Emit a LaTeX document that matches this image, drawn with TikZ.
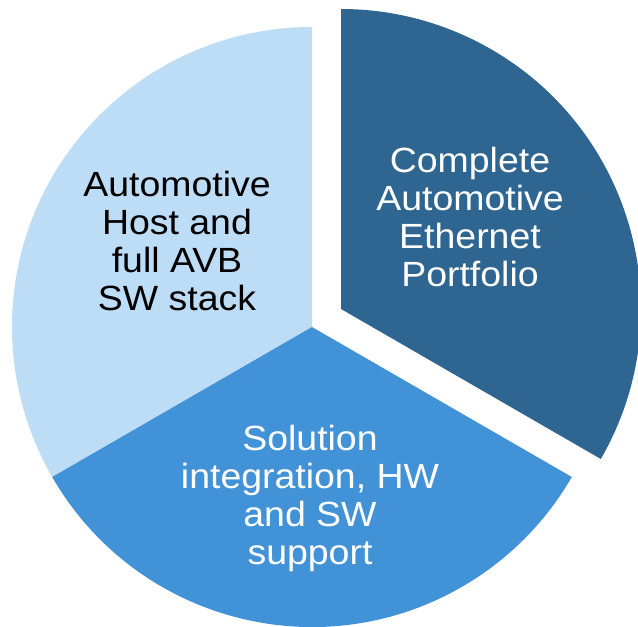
\documentclass[tikz,border=0pt]{standalone}
\usepackage{fontspec}
\setmainfont{Liberation Sans}
\newfontfamily\labelfont[FakeStretch=1.07]{Liberation Sans}
\definecolor{sliceDark}{RGB}{46,101,145}
\definecolor{sliceMid}{RGB}{65,146,214}
\definecolor{sliceLight}{RGB}{189,220,245}
\tikzset{
  slicelabel/.style={align=center, inner sep=0pt,
    font=\labelfont\fontsize{35}{38}\selectfont},
}
\begin{document}
\begin{tikzpicture}[x=1pt,y=1pt]
  \useasboundingbox (0,0) rectangle (638,627);
  \clip (0,0) rectangle (638,627);
  % pie centre and radius
  \def\R{300}
  % upper-left slice
  \fill[sliceLight] (312,300) -- ++(90:\R) arc[start angle=90, end angle=210, radius=\R] -- cycle;
  % bottom slice
  \fill[sliceMid] (312,300) -- ++(210:\R) arc[start angle=210, end angle=330, radius=\R] -- cycle;
  % exploded right slice
  \fill[sliceDark] (341,318) -- ++(-30:\R) arc[start angle=-30, end angle=90, radius=\R] -- cycle;
  % labels
  \node[slicelabel, text=white] (portfolio) at (470,410)
    {Complete\\Automotive\\Ethernet\\Portfolio};
  \node[slicelabel, text=black] (host) at (177,386)
    {Automotive\\Host and\\full AVB\\SW stack};
  \node[slicelabel, text=white] (support) at (310,129)
    {Solution\\integration, HW\\and SW\\support};
\end{tikzpicture}
\end{document}
